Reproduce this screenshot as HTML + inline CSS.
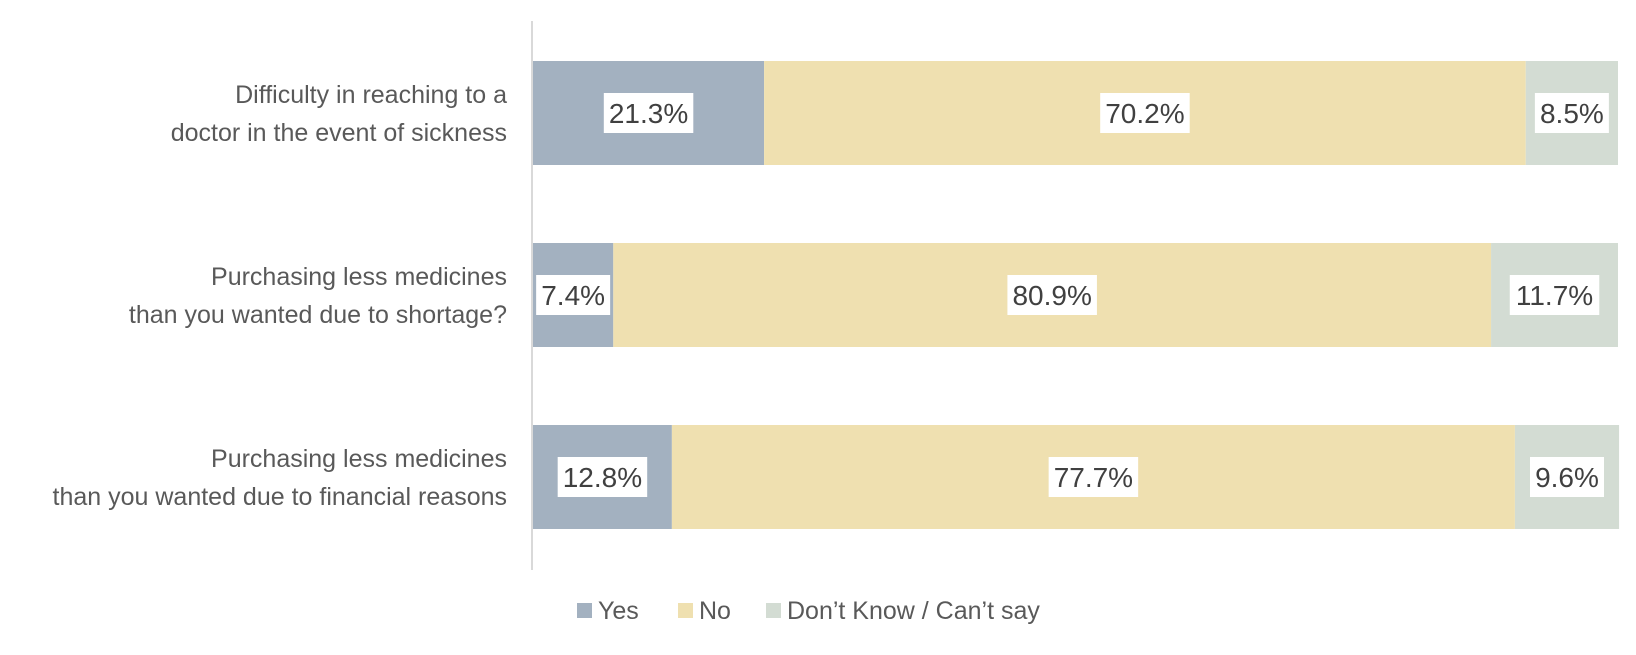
<!DOCTYPE html>
<html><head><meta charset="utf-8">
<style>
body{margin:0;background:#fff;width:1636px;height:650px;overflow:hidden;font-family:"Liberation Sans",sans-serif;}
</style></head>
<body>
<svg width="1636" height="650" xmlns="http://www.w3.org/2000/svg" id="chart">
<line x1="532" y1="21" x2="532" y2="570" stroke="#d9d9d9" stroke-width="2"/>
</svg>
<script>
const categories = [
  ["Difficulty in reaching to a","doctor in the event of sickness"],
  ["Purchasing less medicines","than you wanted due to shortage?"],
  ["Purchasing less medicines","than you wanted due to financial reasons"]
];
const yesValues = [21.3, 7.4, 12.8];
const noValues = [70.2, 80.9, 77.7];
const dkValues = [8.5, 11.7, 9.6];
const seriesNames = ["Yes","No","Don\u2019t Know / Can\u2019t say"];

const svg = document.getElementById('chart');
const NS = 'http://www.w3.org/2000/svg';
const x0 = 533, plotW = 1085;
const xScale = v => v / 100 * plotW;
const rowTop = i => 61 + i * 182;
const barH = 104;
const colors = ["#a3b1c0","#efe0b0","#d3dcd3"];
const series = [yesValues, noValues, dkValues];
function mk(tag, attrs){const e=document.createElementNS(NS,tag);for(const k in attrs)e.setAttribute(k,attrs[k]);svg.appendChild(e);return e;}

categories.forEach((lines, i) => {
  const cy = rowTop(i) + barH/2;
  const t = mk('text',{x:507,y:cy-19+9,'text-anchor':'end','font-size':'25','fill':'#595959'});
  
  
  lines.forEach((ln,j)=>{const ts=document.createElementNS(NS,'tspan');ts.setAttribute('x','507');ts.setAttribute('dy',j?'38':'0');ts.textContent=ln;t.appendChild(ts);});
  let acc = 0;
  series.forEach((vals, s) => {
    const v = vals[i];
    const r = mk('rect',{x:x0+xScale(acc),y:rowTop(i),width:xScale(v),height:barH,fill:colors[s]});
    
    
    const cx = x0 + xScale(acc + v/2);
    const label = v.toFixed(1)+'%';
    const w = label.length*15.5 + 12;
    const b = mk('rect',{x:cx-w/2,y:cy-20,width:w,height:40,fill:'#fff'});
    
    
    const tx = mk('text',{x:cx,y:cy+10,'text-anchor':'middle','font-size':'28','fill':'#404040'});
    
    
    tx.textContent = label;
    acc += v;
  });
});

const legendX = [577, 678, 766];
seriesNames.forEach((n, s) => {
  const sq = mk('rect',{x:legendX[s],y:603,width:15,height:15,fill:colors[s]});
  
  
  const t = mk('text',{x:legendX[s]+21,y:619,'font-size':'25','fill':'#595959'});
  
  
  t.textContent = n;
});
</script>
</body></html>
